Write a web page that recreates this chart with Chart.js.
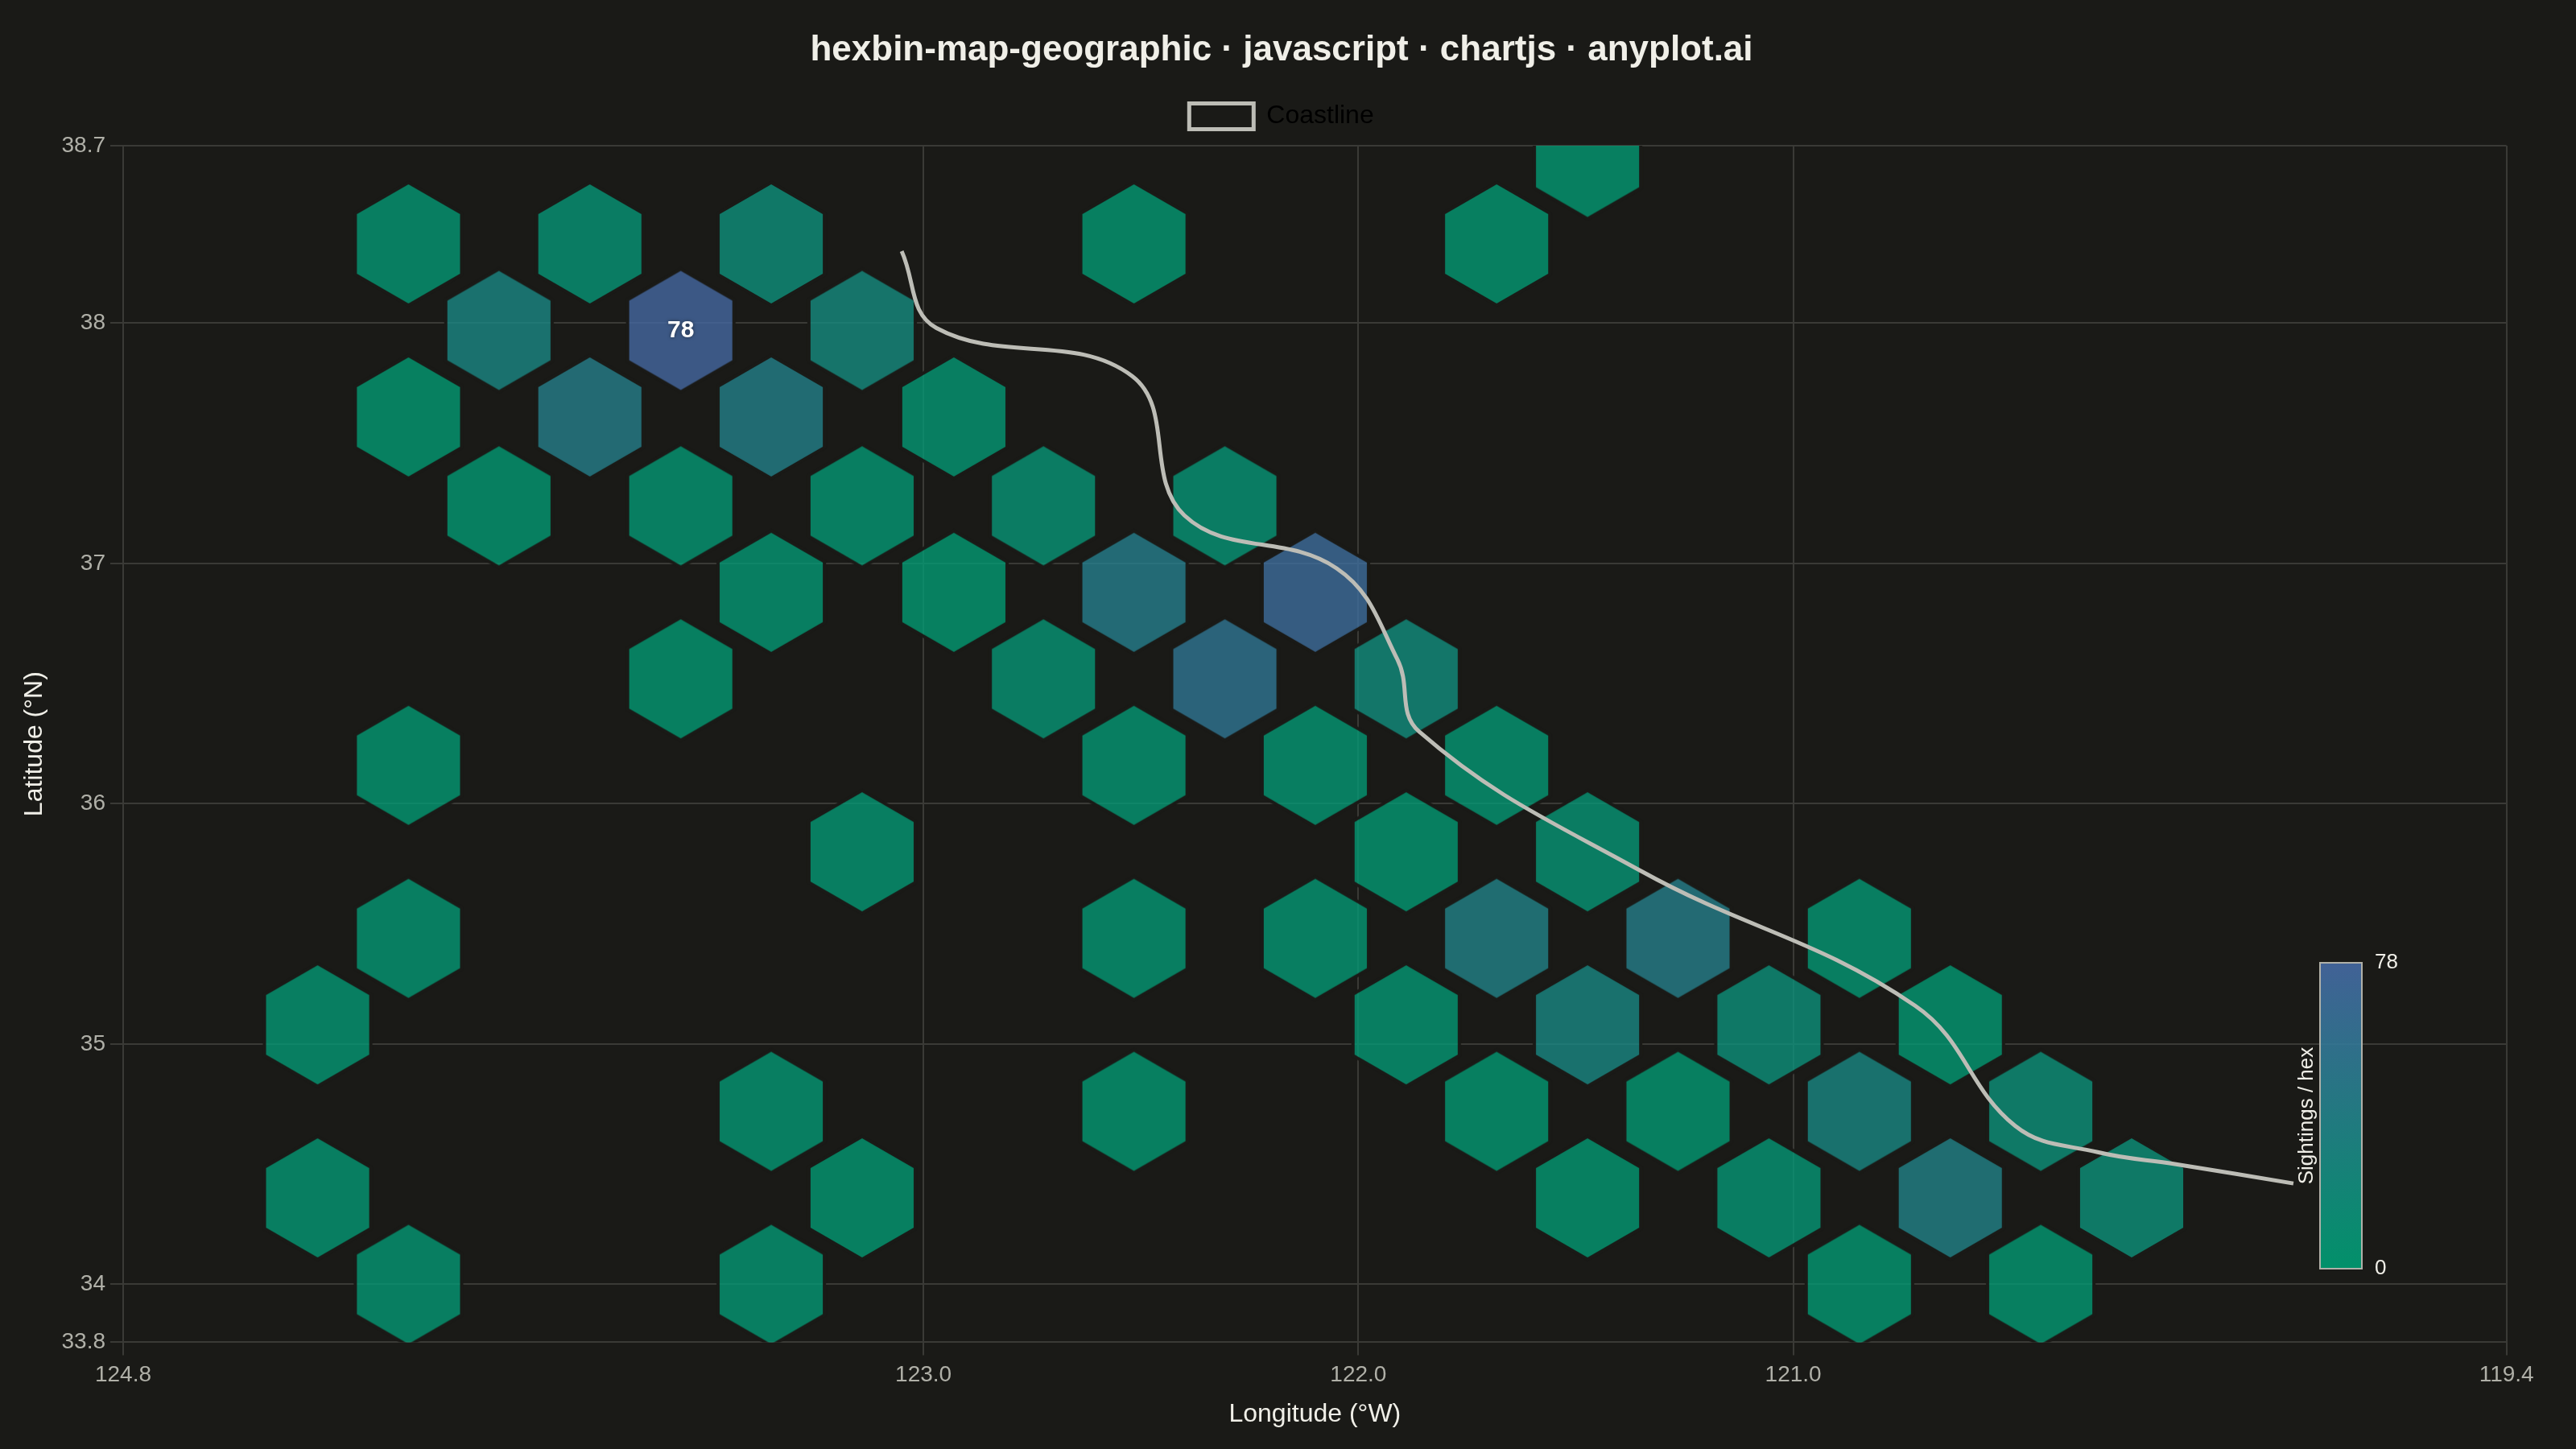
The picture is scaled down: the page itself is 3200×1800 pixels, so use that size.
<!DOCTYPE html>
<html>
<head>
<meta charset="utf-8">
<title>hexbin-map-geographic</title>
<script src="https://cdn.jsdelivr.net/npm/chart.js@4"></script>
<style>
  html, body { margin: 0; padding: 0; background: #1a1a17; }
  #wrap { width: 3200px; height: 1800px; }
</style>
</head>
<body>
<div id="wrap"><canvas id="chart" width="3200" height="1800"></canvas></div>
<script>
// -------------------------
// Data
// -------------------------
const hexLon = [
  -121.473,
  -124.184, -123.767, -123.350, -122.516, -121.682,
  -123.976, -123.558, -123.141,
  -124.184, -123.767, -123.350, -122.930,
  -123.976, -123.558, -123.141, -122.724, -122.307,
  -123.350, -122.930, -122.516, -122.099,
  -123.558, -122.724, -122.307, -121.890,
  -124.184, -122.516, -122.099, -121.682,
  -123.141, -121.890, -121.473,
  -124.184, -122.516, -122.099, -121.682, -121.265, -120.848,
  -124.393, -121.890, -121.473, -121.056, -120.639,
  -123.350, -122.516, -121.682, -121.265, -120.848, -120.431,
  -124.393, -123.141, -121.473, -121.056, -120.639, -120.222,
  -124.184, -123.350, -120.848, -120.431
];
const hexLat = [
  38.69,
  38.33, 38.33, 38.33, 38.33, 38.33,
  37.97, 37.97, 37.97,
  37.61, 37.61, 37.61, 37.61,
  37.24, 37.24, 37.24, 37.24, 37.24,
  36.88, 36.88, 36.88, 36.88,
  36.52, 36.52, 36.52, 36.52,
  36.16, 36.16, 36.16, 36.16,
  35.80, 35.80, 35.80,
  35.44, 35.44, 35.44, 35.44, 35.44, 35.44,
  35.08, 35.08, 35.08, 35.08, 35.08,
  34.72, 34.72, 34.72, 34.72, 34.72, 34.72,
  34.36, 34.36, 34.36, 34.36, 34.36, 34.36,
  34.00, 34.00, 34.00, 34.00
];
const hexCount = [
  3,
  4, 8, 16, 3, 3,
  30, 78, 24,
  2, 42, 40, 4,
  3, 5, 4, 9, 8,
  4, 2, 44, 70,
  3, 7, 55, 20,
  3, 5, 4, 4,
  4, 3, 7,
  4, 4, 4, 38, 42, 4,
  5, 4, 28, 15, 3,
  4, 3, 3, 3, 28, 14,
  4, 3, 3, 6, 38, 14,
  4, 4, 3, 3
];

const coastLon = [-123.05, -122.97, -122.52, -122.40, -122.05, -121.91, -121.86, -121.35, -120.72, -120.49, -120.30, -120.12, -119.85];
const coastLat = [38.30, 37.98, 37.78, 37.20, 36.98, 36.60, 36.30, 35.72, 35.16, 34.66, 34.55, 34.50, 34.42];

const lonTicks = [-124.84, -123, -122, -121, -119.36];
const latTicks = [38.739, 38, 37, 36, 35, 34, 33.759];

const PAGE_TITLE = 'hexbin-map-geographic · javascript · chartjs · anyplot.ai';
const FONT = '"Liberation Sans", Arial, sans-serif';

// -------------------------
// Colours
// -------------------------
const BG = '#1a1a17';
const INK = '#f0efe8';
const INK_SOFT = '#b0b0a8';
const GRID = '#3a3a36';
const LOW = [0, 158, 115];
const HIGH = [70, 106, 164];
const maxCount = Math.max(...hexCount);

function rampColor(t, alpha) {
  const c = LOW.map((v, i) => Math.round(v + (HIGH[i] - v) * t));
  return `rgba(${c[0]},${c[1]},${c[2]},${alpha})`;
}

// -------------------------
// Hexagon point style
// -------------------------
const HEX_R = 74;
const hexCache = {};

function hexPath(ctx, cx, cy, r) {
  ctx.beginPath();
  for (let i = 0; i < 6; i++) {
    const a = Math.PI / 6 + i * Math.PI / 3;
    const px = cx + r * Math.cos(a);
    const py = cy + r * Math.sin(a);
    if (i === 0) ctx.moveTo(px, py);
    else ctx.lineTo(px, py);
  }
  ctx.closePath();
}

function hexSprite(count) {
  if (hexCache[count]) return hexCache[count];
  const c = document.createElement('canvas');
  c.width = 2 * HEX_R + 16;
  c.height = 2 * HEX_R + 16;
  const ctx = c.getContext('2d');
  const mid = c.width / 2;
  // bg coloured outline hides the grid just around the cell
  hexPath(ctx, mid, mid, HEX_R + 2.3);
  ctx.strokeStyle = BG;
  ctx.lineWidth = 4;
  ctx.stroke();
  hexPath(ctx, mid, mid, HEX_R);
  ctx.fillStyle = rampColor(count / maxCount, 0.78);
  ctx.fill();
  hexCache[count] = c;
  return c;
}

// -------------------------
// Plugins
// -------------------------
const legendGap = {
  id: 'legendGap',
  beforeInit(chart) {
    // legend block ends a little lower than the library leaves it
    const fit = chart.legend.fit;
    chart.legend.fit = function () {
      fit.call(this);
      this.height += 10.5;
    };
  }
};

const peakLabel = {
  id: 'peakLabel',
  afterDatasetsDraw(chart) {
    const i = hexCount.indexOf(maxCount);
    const x = chart.scales.x.getPixelForValue(hexLon[i]);
    const y = chart.scales.y.getPixelForValue(hexLat[i]);
    const ctx = chart.ctx;
    ctx.save();
    ctx.font = `bold 30px ${FONT}`;
    ctx.fillStyle = '#ffffff';
    ctx.textAlign = 'center';
    ctx.textBaseline = 'middle';
    ctx.shadowColor = 'rgba(0,0,0,0.5)';
    ctx.shadowBlur = 4;
    ctx.fillText(String(maxCount), x, y);
    ctx.restore();
  }
};

const colorBar = {
  id: 'colorBar',
  afterDraw(chart) {
    const ctx = chart.ctx;
    const left = 2882, top = 1196, w = 52, h = 380;
    ctx.save();
    const grad = ctx.createLinearGradient(0, top + h, 0, top);
    grad.addColorStop(0, rampColor(0, 0.9));
    grad.addColorStop(1, rampColor(1, 0.9));
    ctx.fillStyle = grad;
    ctx.fillRect(left, top, w, h);
    ctx.strokeStyle = INK_SOFT;
    ctx.lineWidth = 2;
    ctx.strokeRect(left, top, w, h);

    ctx.font = `26px ${FONT}`;
    ctx.fillStyle = INK;
    ctx.textAlign = 'left';
    ctx.textBaseline = 'middle';
    ctx.fillText(String(maxCount), left + w + 16, top);
    ctx.fillText('0', left + w + 16, top + h);

    ctx.translate(left - 16, top + h / 2);
    ctx.rotate(-Math.PI / 2);
    ctx.textAlign = 'center';
    ctx.fillText('Sightings / hex', 0, 0);
    ctx.restore();
  }
};

// -------------------------
// Chart
// -------------------------
new Chart(document.getElementById('chart'), {
  type: 'scatter',
  data: {
    datasets: [
      {
        type: 'line',
        label: 'Coastline',
        data: coastLon.map((lon, i) => ({ x: lon, y: coastLat[i] })),
        borderColor: '#bdbdb6',
        backgroundColor: 'transparent',
        borderWidth: 5,
        pointRadius: 0,
        tension: 0.4,
        order: 1
      },
      {
        label: 'Sightings',
        data: hexLon.map((lon, i) => ({ x: lon, y: hexLat[i], v: hexCount[i] })),
        pointStyle: (ctx) => hexSprite(ctx.raw.v),
        clip: 0,
        order: 2
      }
    ]
  },
  options: {
    responsive: false,
    animation: false,
    devicePixelRatio: 1,
    layout: { autoPadding: false, padding: { left: 16, right: 32, top: 0, bottom: 16 } },
    plugins: {
      title: {
        display: true,
        text: PAGE_TITLE,
        color: INK,
        font: { family: FONT, size: 44, weight: 'bold' },
        padding: { top: 36.6, bottom: 19 }
      },
      legend: {
        display: true,
        labels: {
          color: '#000000',
          boxWidth: 80,
          boxHeight: 32,
          padding: 20,
          font: { family: FONT, size: 32 },
          filter: (item) => item.text === 'Coastline'
        }
      },
      tooltip: { enabled: false }
    },
    scales: {
      x: {
        type: 'linear',
        min: lonTicks[0],
        max: lonTicks[lonTicks.length - 1],
        afterBuildTicks: (s) => { s.ticks = lonTicks.map((value) => ({ value })); },
        afterFit: (s) => { s.height = 116.6; s.paddingRight = 86.3; s.paddingLeft = 0; },
        grid: { color: GRID, lineWidth: 2, tickLength: 16 },
        border: { color: GRID, width: 2 },
        ticks: {
          color: INK_SOFT,
          font: { family: FONT, size: 28 },
          padding: 8,
          autoSkip: false,
          maxRotation: 0,
          callback: (v) => Math.abs(v).toFixed(1)
        },
        title: {
          display: true,
          text: 'Longitude (°W)',
          color: INK,
          font: { family: FONT, size: 32 },
          padding: { top: 0, bottom: 8 }
        }
      },
      y: {
        type: 'linear',
        min: latTicks[latTicks.length - 1],
        max: latTicks[0],
        afterBuildTicks: (s) => { s.ticks = latTicks.map((value) => ({ value })); },
        afterFit: (s) => { s.width = 137; },
        grid: { color: GRID, lineWidth: 2, tickLength: 16 },
        border: { color: GRID, width: 2 },
        ticks: {
          color: INK_SOFT,
          font: { family: FONT, size: 28 },
          padding: 6,
          autoSkip: false,
          callback: (v) => String(Math.round(v * 10) / 10)
        },
        title: {
          display: true,
          text: 'Latitude (°N)',
          color: INK,
          font: { family: FONT, size: 32 },
          padding: { top: 8, bottom: 0 }
        }
      }
    }
  },
  plugins: [legendGap, peakLabel, colorBar]
});
</script>
</body>
</html>
